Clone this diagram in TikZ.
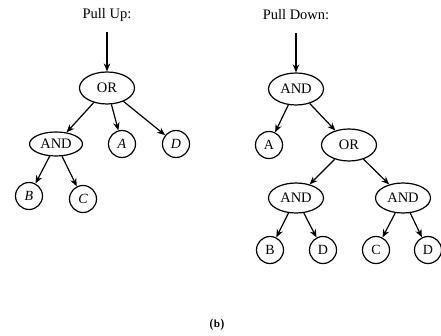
\documentclass[tikz,border=0pt]{standalone}
\usepackage{fontspec}
\setmainfont{Liberation Serif}
\usetikzlibrary{shapes.geometric,arrows.meta}
\begin{document}
\begin{tikzpicture}[x=1pt,y=-1pt,
  lbl/.style={font=\fontsize{14.5}{16}\selectfont},
  ell/.style={draw,line width=1.2pt,ellipse,inner sep=0pt,minimum width=55pt,minimum height=32pt,font=\fontsize{14.5}{16}\selectfont},
  ellsm/.style={ell,minimum height=24pt,minimum width=53pt},
  leaf/.style={draw,line width=1.2pt,circle,inner sep=0pt,minimum size=27pt,font=\fontsize{14}{16}\selectfont},
  arr/.style={-{Stealth[length=8pt,width=6.5pt]},line width=1.2pt}]
\useasboundingbox (0,0) rectangle (441,336);
% left tree
\node[lbl] (pu) at (107,15) {Pull Up:};
\coordinate (pus) at (107,32);
\node[ell] (or1) at (107,88) {OR};
\node[ellsm] (and1) at (56,144) {AND};
\node[leaf] (a1) at (122,144) {\itshape A};
\node[leaf] (d1) at (176,144) {\itshape D};
\node[leaf] (b1) at (29,196) {\itshape B};
\node[leaf] (c1) at (83,199) {\itshape C};
\draw[arr] (pus) -- (or1);
\draw[arr] (or1) -- (and1);
\draw[arr] (or1) -- (a1);
\draw[arr] (or1) -- (d1);
\draw[arr] (and1) -- (b1);
\draw[arr] (and1) -- (c1);
% right tree
\node[lbl] (pd) at (296,15) {Pull Down:};
\coordinate (pds) at (296,33);
\node[ell] (and2) at (296,89) {AND};
\node[leaf] (a2) at (269,145) {A};
\node[ell] (or2) at (349,145) {OR};
\node[ell,minimum height=30pt] (and3) at (296,198) {AND};
\node[ell,minimum height=30pt] (and4) at (403,198) {AND};
\node[leaf] (b2) at (270,250) {B};
\node[leaf] (d2) at (323,250) {D};
\node[leaf] (c2) at (376,250) {C};
\node[leaf] (d3) at (428,250) {D};
\draw[arr] (pds) -- (and2);
\draw[arr] (and2) -- (a2);
\draw[arr] (and2) -- (or2);
\draw[arr] (or2) -- (and3);
\draw[arr] (or2) -- (and4);
\draw[arr] (and3) -- (b2);
\draw[arr] (and3) -- (d2);
\draw[arr] (and4) -- (c2);
\draw[arr] (and4) -- (d3);
\node[font=\fontsize{11}{13}\selectfont\bfseries\sffamily] (cap) at (217,325) {(b)};
\end{tikzpicture}
\end{document}
